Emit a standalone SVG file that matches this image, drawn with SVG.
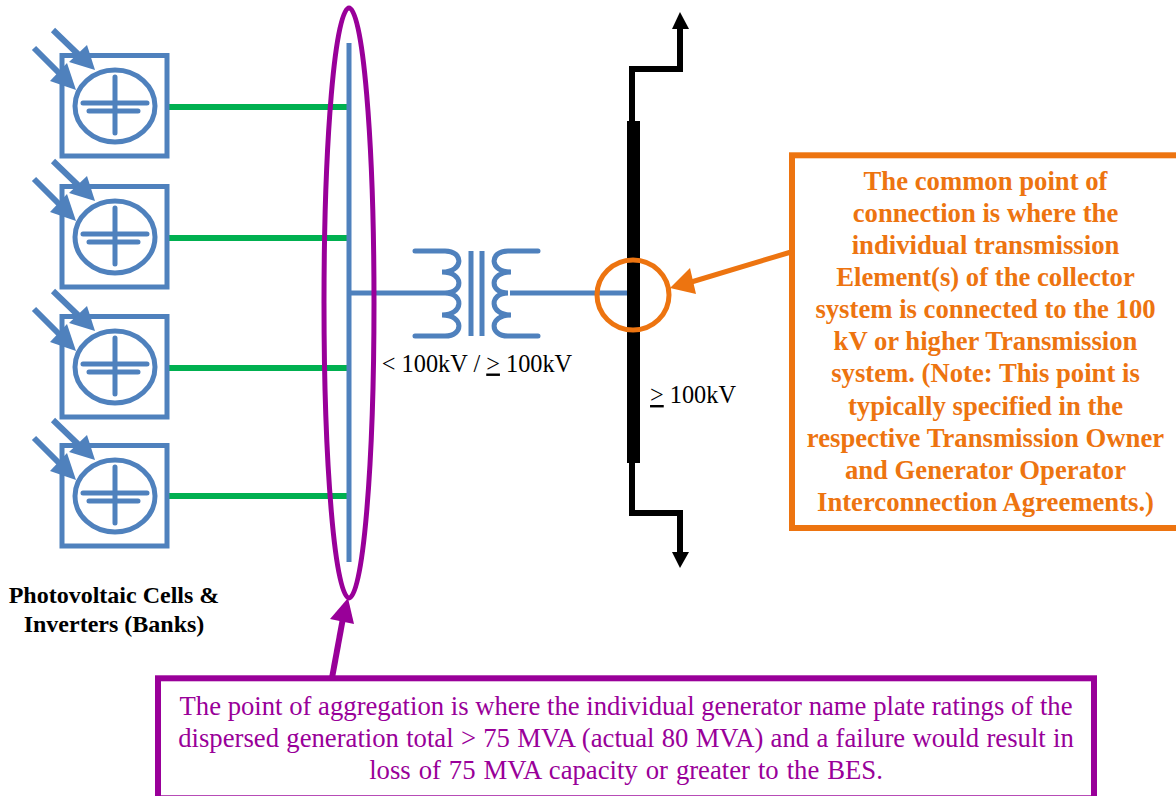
<svg xmlns="http://www.w3.org/2000/svg" width="1176" height="796" viewBox="0 0 1176 796">
<style>
.bl{fill:none;stroke:#4f81bd;stroke-width:5}
.rd{stroke-linecap:round}
.ar{fill:none;stroke:#4f81bd;stroke-width:6}
.gr{fill:none;stroke:#00b050;stroke-width:6}
.bk{fill:none;stroke:#000;stroke-width:6}
.pu{fill:none;stroke:#990099;stroke-width:5}
.or{fill:none;stroke:#ed7410;stroke-width:5}
text{font-family:"Liberation Serif","Times New Roman",serif;text-anchor:middle}
.ot{font-size:26.700px;font-weight:bold;fill:#ed7410}
.pt{font-size:26.700px;fill:#990099}
.kt{font-size:24.300px;fill:#000}
.bt{font-size:24px;font-weight:bold;fill:#000}
</style>
<defs>
<g id="pv">
<rect class="bl" x="62" y="55.500" width="105" height="100.500"/>
<ellipse class="bl" cx="115" cy="106" rx="40" ry="36"/>
<path class="bl rd" d="M115 77V133M83 103H147M89 111H138"/>
<path class="ar" d="M53 30L82 58M34 48L62 76"/>
<polygon points="95,70 69,62 87,45" fill="#4f81bd"/>
<polygon points="76,90 50,81 67,63" fill="#4f81bd"/>
</g>
</defs>
<g id="connectors">
<path class="gr" d="M169 107H347M169 238H347M169 368H347M169 496H347"/>
<path class="bl" d="M349 43V562M349 293H445M510 293H627"/>
<path class="bk" d="M632 121V69H680V28M632 463V513H680V552"/>
<polygon points="680,12 672,29 689,29" fill="#000"/>
<polygon points="680,568 672,552 689,552" fill="#000"/>
<path d="M791 252L688 283" class="or"/>
<polygon points="670,288 690,268 696,294" fill="#ed7410"/>
<path class="pu" style="stroke-width:6" d="M332 678L343 618"/>
<polygon points="348,598 330,619 354,624" fill="#990099"/>
</g>
<g id="pv1"><use href="#pv"/></g>
<g id="pv2"><use href="#pv" y="131"/></g>
<g id="pv3"><use href="#pv" y="261"/></g>
<g id="pv4"><use href="#pv" y="390"/></g>
<g id="aggregation-ellipse"><ellipse class="pu" cx="349" cy="303" rx="25" ry="295"/></g>
<g id="transformer">
<path class="bl rd" d="M415 251H445C464 251 464 272 442 272C464 272 464 293 445 293C464 293 464 315 442 315C464 315 464 336 445 336H415"/>
<path class="bl" d="M471 251V336M482 251V336"/>
<path class="bl rd" d="M538 251H508C489 251 489 272 511 272C489 272 489 293 508 293C489 293 489 315 511 315C489 315 489 336 508 336H538"/>
<text class="kt" x="477" y="371.500">&lt; 100kV / <tspan text-decoration="underline">&gt;</tspan> 100kV</text>
</g>
<g id="bus">
<rect x="627" y="121" width="13" height="342" fill="#000"/>
<text class="kt" x="693" y="403"><tspan text-decoration="underline">&gt;</tspan> 100kV</text>
</g>
<g id="pcc-circle"><ellipse class="or" cx="633" cy="295" rx="36" ry="35"/></g>
<g id="pv-label">
<text class="bt" x="114" y="603">Photovoltaic Cells &amp;</text>
<text class="bt" x="114" y="632">Inverters (Banks)</text>
</g>
<g id="orange-note">
<rect x="792" y="155.300" width="392" height="372.700" fill="#fff" stroke="#ed7410" stroke-width="6"/>
<text class="ot"><tspan x="985.500" y="189.500">The common point of</tspan><tspan x="985.500" y="221.500">connection is where the</tspan><tspan x="985.500" y="253.500">individual transmission</tspan><tspan x="985.500" y="285.500">Element(s) of the collector</tspan><tspan x="985.500" y="317.500">system is connected to the 100</tspan><tspan x="985.500" y="349.500">kV or higher Transmission</tspan><tspan x="985.500" y="381.500">system. (Note: This point is</tspan><tspan x="985.500" y="414.500">typically specified in the</tspan><tspan x="985.500" y="446.500">respective Transmission Owner</tspan><tspan x="985.500" y="478.500">and Generator Operator</tspan><tspan x="985.500" y="510.500">Interconnection Agreements.)</tspan></text>
</g>
<g id="purple-note">
<rect x="158" y="678.300" width="936" height="120" fill="#fff" stroke="#990099" stroke-width="6"/>
<text class="pt"><tspan x="626" y="714.500">The point of aggregation is where the individual generator name plate ratings of the</tspan></text>
<text class="pt" style="word-spacing:.6px"><tspan x="626" y="746.500">dispersed generation total &gt; 75 MVA (actual 80 MVA) and a failure would result in</tspan></text>
<text class="pt" style="word-spacing:1.300px"><tspan x="626" y="779">loss of 75 MVA capacity or greater to the BES.</tspan></text>
</g>
</svg>
